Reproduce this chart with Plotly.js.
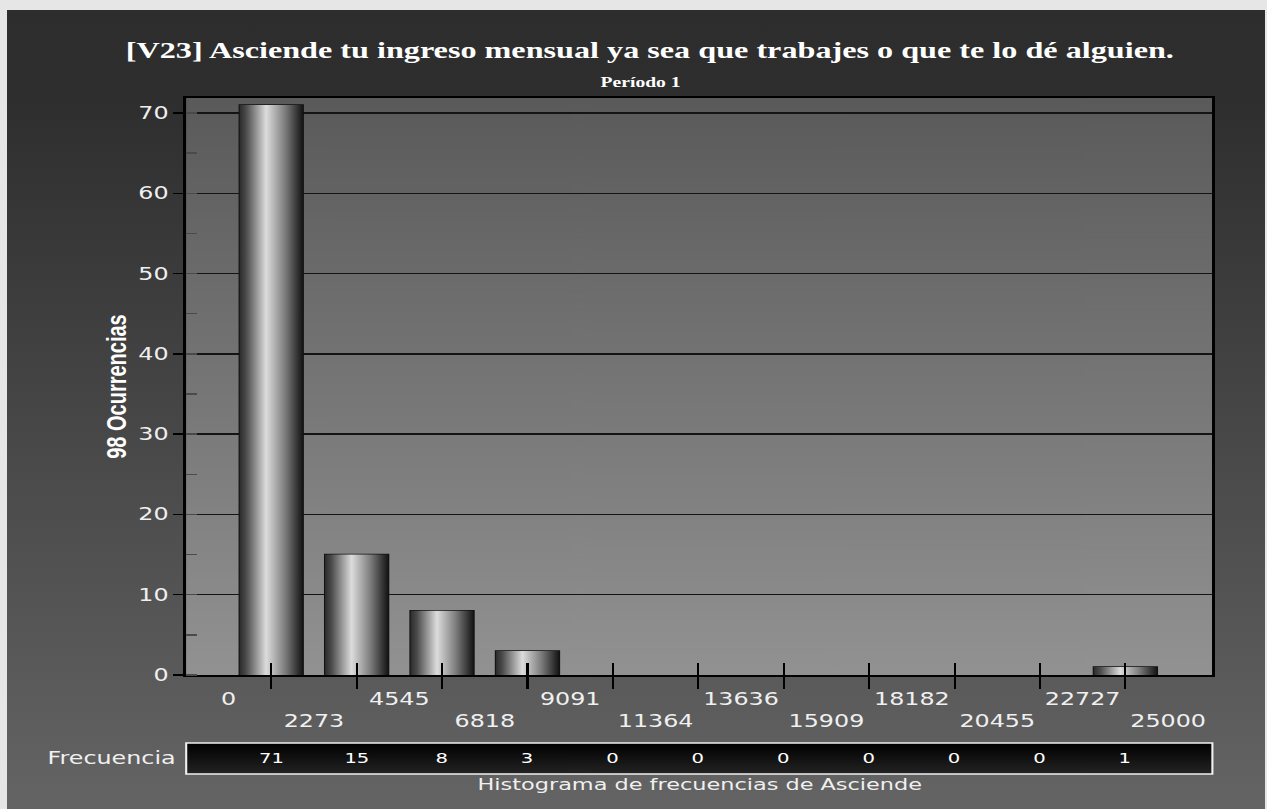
<!DOCTYPE html>
<html>
<head>
<meta charset="utf-8">
<script src="https://cdn.plot.ly/plotly-3.0.1.min.js"></script>
<style>
  html, body { margin: 0; padding: 0; background: #e6e6e6; overflow: hidden; }
  #wrap { position: absolute; left: 7px; top: 10px; width: 1258px; height: 799px; overflow: hidden;
          background: linear-gradient(to bottom, #2d2d2d 0px, #2e2e2e 90px, #646464 799px); }
  #chart { position: absolute; left: 0; top: 0; transform-origin: 0 0; }
</style>
</head>
<body>
<div id="wrap"><div id="chart"></div></div>
<script>
// ---- data ----
const binEdges = [0, 2273, 4545, 6818, 9091, 11364, 13636, 15909, 18182, 20455, 22727, 25000];
const edgeLabels = ['0', '2273', '4545', '6818', '9091', '11364', '13636', '15909', '18182', '20455', '22727', '25000'];
const frequencies = [71, 15, 8, 3, 0, 0, 0, 0, 0, 0, 1];
const titleText = '[V23] Asciende tu ingreso mensual ya sea que trabajes o que te lo dé alguien.';
const subtitleText = 'Período 1';
const yTitleText = '98 Ocurrencias';
const tableLabel = 'Frecuencia';
const footerText = 'Histograma de frecuencias de Asciende';

// ---- geometry / styling ----
const SX = 1.4;                 // the reference is horizontally stretched
const W = 1258 / SX, H = 799;
const chartDiv = document.getElementById('chart');
chartDiv.style.width = W + 'px';
chartDiv.style.height = H + 'px';
chartDiv.style.transform = 'scaleX(' + SX + ')';

const centers = frequencies.map((_, i) => (binEdges[i] + binEdges[i + 1]) / 2);
const barWidths = frequencies.map((_, i) => 0.74 * (binEdges[i + 1] - binEdges[i]));
const xRange = [-1126, 26179];
const yRange = [0, 71.87];

function gradientURL(stops, vertical) {
  const c = document.createElement('canvas');
  c.width = vertical ? 4 : 256; c.height = vertical ? 256 : 4;
  const ctx = c.getContext('2d');
  const g = vertical ? ctx.createLinearGradient(0, 0, 0, 256) : ctx.createLinearGradient(0, 0, 256, 0);
  stops.forEach(s => g.addColorStop(s[0], s[1]));
  ctx.fillStyle = g; ctx.fillRect(0, 0, c.width, c.height);
  return c.toDataURL();
}
const plotBg = gradientURL([[0, '#5a5a5a'], [1, '#929292']], true);
const tableBg = gradientURL([[0, '#000000'], [1, '#242424']], true);

const barScale = [[0, '#2c2c2c'], [0.1, '#4a4a4a'], [0.42, '#dcdcdc'], [0.72, '#7c7c7c'], [0.94, '#2a2a2a'], [1, '#151515']];

const tickFont = { family: 'DejaVu Sans, Verdana, sans-serif', size: 17, color: '#f0f0f0' };

const data = [];
frequencies.forEach((v, i) => {
  if (v <= 0) return;
  const x0 = centers[i] - barWidths[i] / 2, x1 = centers[i] + barWidths[i] / 2;
  data.push({
    type: 'scatter', mode: 'none', fill: 'toself',
    x: [x0, x0, x1, x1, x0], y: [0, v, v, 0, 0],
    fillcolor: '#999',
    fillgradient: { type: 'horizontal', colorscale: barScale },
    hoverinfo: 'skip', showlegend: false
  });
});
data.push({
  type: 'bar', x: centers, y: frequencies, width: barWidths,
  marker: { color: 'rgba(0,0,0,0)',
            line: { color: '#111', width: frequencies.map(v => v > 0 ? 1.5 : 0) } },
  showlegend: false, hoverinfo: 'x+y'
});
data.push({ type: 'scatter', x: [], y: [], xaxis: 'x2', showlegend: false, hoverinfo: 'skip' });
data.push({ type: 'scatter', x: [], y: [], xaxis: 'x3', showlegend: false, hoverinfo: 'skip' });

const staggered = edgeLabels.map((t, i) => i % 2 === 0 ? t : '\u00a0<br>' + t);

const annotations = [
  { text: '<b>' + subtitleText + '</b>', xref: 'paper', yref: 'paper', x: 0.4425, y: 1.0277,
    xanchor: 'center', yanchor: 'middle', showarrow: false,
    font: { family: 'Liberation Serif, Times New Roman, serif', size: 14, color: '#ffffff' } },
  { text: tableLabel, xref: 'paper', yref: 'paper', x: -0.0078, y: -0.1438,
    xanchor: 'right', yanchor: 'middle', showarrow: false,
    font: { family: 'DejaVu Sans, Verdana, sans-serif', size: 17, color: '#f0f0f0' } },
  { text: footerText, xref: 'paper', yref: 'paper', x: 0.5, y: -0.1906,
    xanchor: 'center', yanchor: 'middle', showarrow: false,
    font: { family: 'DejaVu Sans, Verdana, sans-serif', size: 16, color: '#f0f0f0' } }
];
frequencies.forEach((v, i) => {
  annotations.push({ text: String(v), xref: 'x', yref: 'paper', x: centers[i], y: -0.1438,
    xanchor: 'center', yanchor: 'middle', showarrow: false,
    font: { family: 'DejaVu Sans, Verdana, sans-serif', size: 14, color: '#ffffff' } });
});

const layout = {
  width: W, height: H,
  margin: { l: 179 / SX, r: 53 / SX, t: 88, b: 134, pad: 0 },
  paper_bgcolor: 'rgba(0,0,0,0)', plot_bgcolor: 'rgba(0,0,0,0)',
  showlegend: false, barmode: 'overlay',
  title: {
    text: '<b>' + titleText + '</b>',
    font: { family: 'Liberation Serif, Times New Roman, serif', size: 23, color: '#ffffff' },
    xref: 'container', yref: 'container', x: 0.511, y: 0.95, xanchor: 'center', yanchor: 'middle'
  },
  xaxis: {
    range: xRange, tickmode: 'array', tickvals: centers, showticklabels: false,
    ticks: 'outside', ticklen: 12, tickwidth: 1.5, tickcolor: '#000',
    showgrid: false, zeroline: false, showline: true, linecolor: '#000', linewidth: 2, mirror: true,
    fixedrange: true
  },
  xaxis2: {
    overlaying: 'x', anchor: 'y', range: xRange, tickmode: 'array', tickvals: centers, showticklabels: false,
    ticks: 'inside', ticklen: 12, tickwidth: 1.5, tickcolor: '#000',
    showgrid: false, zeroline: false, showline: false, fixedrange: true
  },
  xaxis3: {
    overlaying: 'x', anchor: 'y', range: xRange, tickmode: 'array', tickvals: binEdges, ticktext: staggered,
    ticks: '', tickangle: 0, ticklabelstandoff: 12, tickfont: tickFont,
    showgrid: false, zeroline: false, showline: false, fixedrange: true
  },
  yaxis: {
    range: yRange, tick0: 0, dtick: 10, ticks: 'outside', ticklen: 10 / SX, tickwidth: 1.5, tickcolor: '#000',
    tickfont: tickFont, showgrid: true, gridcolor: '#141414', gridwidth: 1.5,
    zeroline: false, showline: true, linecolor: '#000', linewidth: 2, mirror: true,
    minor: { dtick: 5, tick0: 0, ticks: 'inside', ticklen: 11 / SX, tickwidth: 1.5, tickcolor: '#4a4a4a', showgrid: false },
    title: { text: '<b>' + yTitleText + '</b>', standoff: 3,
             font: { family: 'Liberation Sans, Arial, sans-serif', size: 20, color: '#ffffff' } },
    fixedrange: true
  },
  images: [
    { source: plotBg, xref: 'x domain', yref: 'y domain', x: 0, y: 1, sizex: 1, sizey: 1,
      xanchor: 'left', yanchor: 'top', sizing: 'stretch', layer: 'below' },
    { source: tableBg, xref: 'paper', yref: 'paper', x: 0, y: -0.1179, sizex: 1, sizey: 0.0537,
      xanchor: 'left', yanchor: 'top', sizing: 'stretch', layer: 'below' }
  ],
  shapes: [
    { type: 'rect', xref: 'paper', yref: 'paper', x0: 0, x1: 1, y0: -0.1716, y1: -0.1179,
      line: { color: '#f0f0f0', width: 1.5 }, fillcolor: 'rgba(0,0,0,0)', layer: 'above' }
  ],
  annotations: annotations
};

Plotly.newPlot(chartDiv, data, layout, { displayModeBar: false, staticPlot: true });
</script>
</body>
</html>
